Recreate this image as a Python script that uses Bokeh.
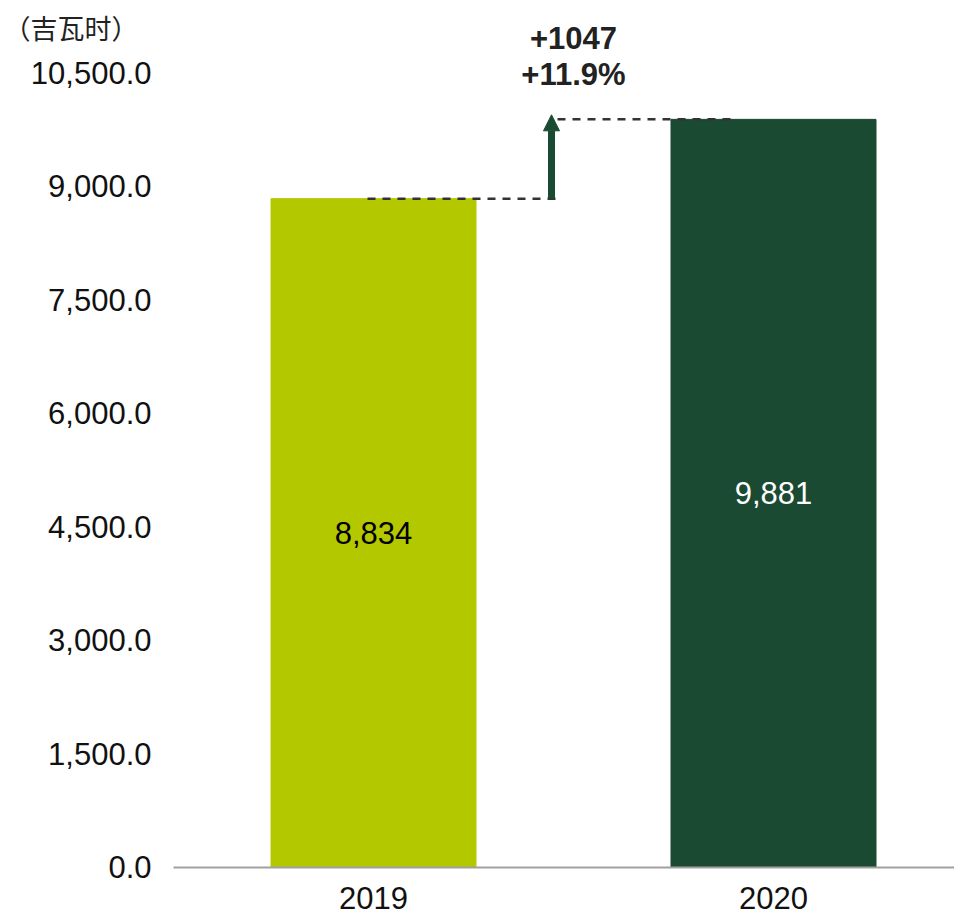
from bokeh.plotting import figure
from bokeh.models import (ColumnDataSource, Range1d, FixedTicker, NumeralTickFormatter,
                          Label, Arrow, NormalHead)
from bokeh.embed import file_html
from bokeh.resources import INLINE
from bokeh.core.properties import value

# ---- data ----
categories = ["2019", "2020"]
values = [8834, 9881]
bar_colors = ["#b4c800", "#1b4a33"]
label_colors = ["#000000", "#ffffff"]
y_ticks = [0, 1500, 3000, 4500, 6000, 7500, 9000, 10500]
unit_text = "（吉瓦时）"

diff = values[1] - values[0]
pct = diff / values[0] * 100
delta_texts = [f"+{diff}", f"+{pct:.1f}%"]

# ---- layout constants ----
W, H = 954, 915
FONT = "Liberation Sans"
FS = "31px"
xpos = [0.5, 1.5]
X_END = 1.9525

p = figure(width=W, height=H, output_backend="svg", toolbar_location=None,
           x_range=Range1d(-0.4325, X_END), y_range=Range1d(-634, 11451),
           min_border_left=0, min_border_right=0, min_border_top=0,
           min_border_bottom=0)
p.outline_line_color = None
p.xgrid.visible = False
p.ygrid.visible = False
p.background_fill_color = "white"
p.border_fill_color = "white"

src = ColumnDataSource(dict(x=xpos, top=values, color=bar_colors,
                            mid=[v / 2 for v in values],
                            lab=[f"{v:,}" for v in values], lc=label_colors))
p.vbar(x="x", top="top", width=0.5125, bottom=0, color="color", source=src)
p.text(x="x", y="mid", text="lab", text_color="lc", source=src,
       text_font=value(FONT), text_font_size=FS,
       text_align="center", text_baseline="middle")

# dashed connectors
p.line(x=[0.485, 0.9675], y=[values[0], values[0]], line_color="#333333",
       line_width=2.5, line_dash="8 7")
p.line(x=[0.96, 1.41], y=[values[1], values[1]], line_color="#333333",
       line_width=2.5, line_dash="8 7")

# arrow
p.add_layout(Arrow(end=NormalHead(size=16, fill_color="#1b4a33", line_color="#1b4a33"),
                   x_start=0.945, y_start=values[0], x_end=0.945, y_end=values[1] + 60,
                   line_color="#1b4a33", line_width=7))

# delta texts
for t, yy in zip(delta_texts, [10962, 10474]):
    p.add_layout(Label(x=1.0, y=yy, text=t, text_font=FONT, text_font_size=FS,
                       text_font_style="bold", text_color="#222222",
                       text_align="center", text_baseline="middle"))

# unit label
p.add_layout(Label(x=-0.425, y=11094, text=unit_text,
                   text_font="Noto Sans CJK SC", text_font_size="27px",
                   text_color="#222222", text_align="left", text_baseline="middle"))

# axes
p.yaxis.fixed_location = 0
p.yaxis.ticker = FixedTicker(ticks=y_ticks)
p.yaxis.formatter = NumeralTickFormatter(format="0,0.0")
p.yaxis.axis_line_color = None
p.yaxis.major_tick_line_color = None
p.yaxis.minor_tick_line_color = None
p.yaxis.major_tick_out = 0
p.yaxis.major_label_standoff = 22
p.yaxis.major_label_text_font = FONT
p.yaxis.major_label_text_font_size = FS
p.yaxis.major_label_text_color = "#111111"

p.xaxis.fixed_location = 0
p.xaxis.bounds = (0, X_END)
p.xaxis.ticker = FixedTicker(ticks=xpos)
p.xaxis.major_label_overrides = {x: c for x, c in zip(xpos, categories)}
p.xaxis.axis_line_color = "#a0a0a0"
p.xaxis.axis_line_width = 2
p.xaxis.major_tick_line_color = None
p.xaxis.minor_tick_line_color = None
p.xaxis.major_tick_out = 0
p.xaxis.major_label_standoff = 20
p.xaxis.major_label_text_font = FONT
p.xaxis.major_label_text_font_size = FS
p.xaxis.major_label_text_color = "#111111"

open("out.html", "w").write(file_html(p, INLINE))
